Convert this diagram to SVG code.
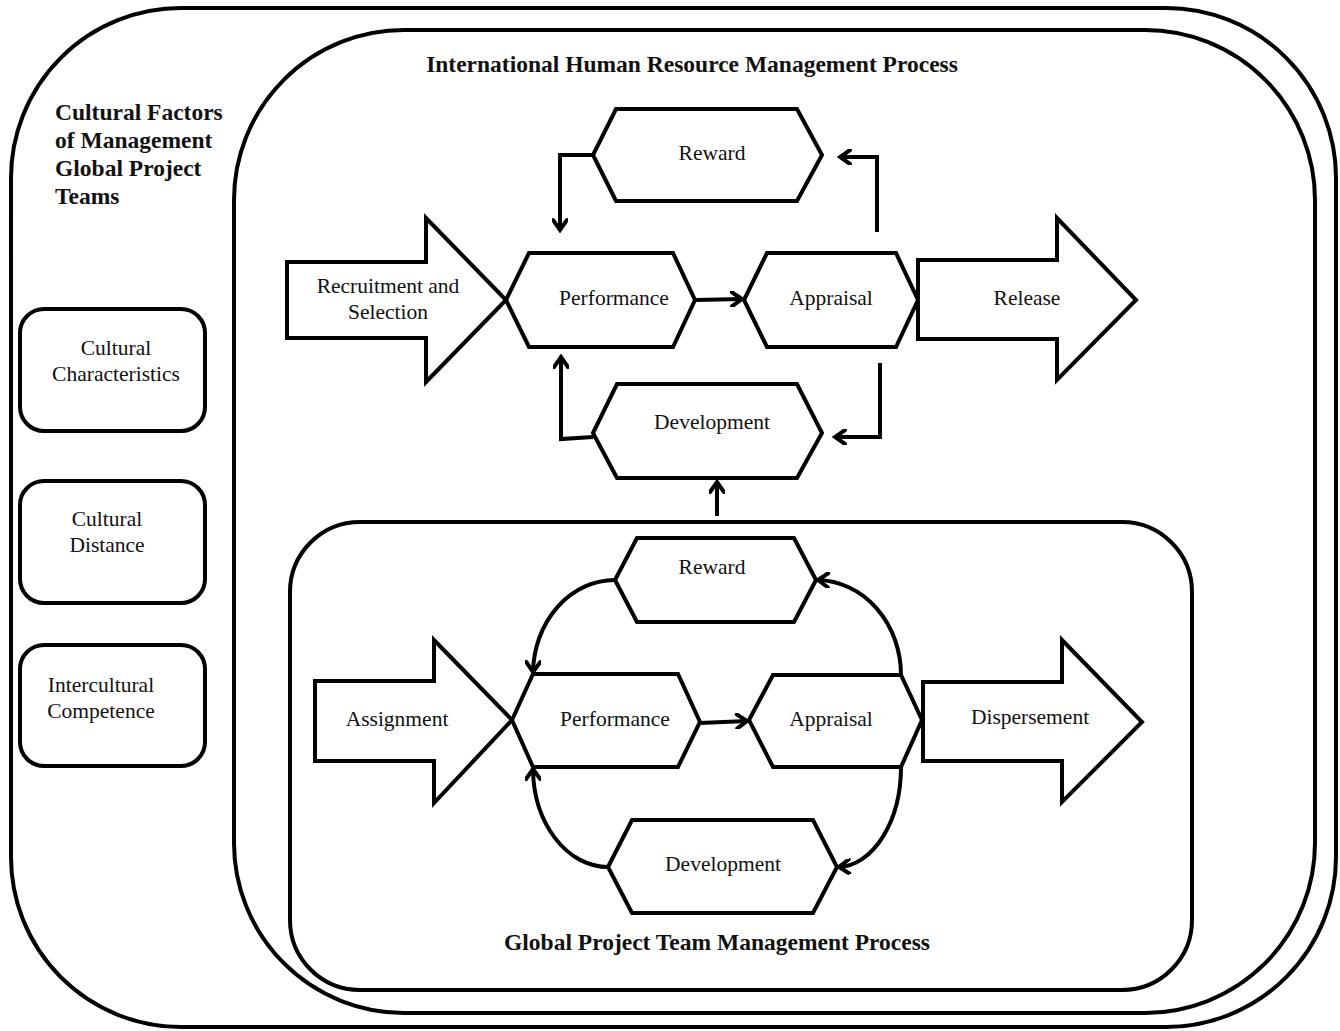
<svg xmlns="http://www.w3.org/2000/svg" width="1340" height="1031" viewBox="0 0 1340 1031">
<style>
.frame{fill:none;stroke:#000;stroke-width:4}
.shape{fill:#fff;stroke:#000;stroke-width:4;stroke-linejoin:miter}
.t{font-family:"Liberation Serif","Times New Roman",serif;font-size:21.5px;fill:#111;text-anchor:middle}
.b{font-family:"Liberation Serif","Times New Roman",serif;font-size:23.5px;font-weight:bold;fill:#111}
.c{fill:none;stroke:#000;stroke-width:4}
</style>
<defs>
<marker id="ah" markerWidth="16" markerHeight="16" viewBox="0 0 16 16" refX="13" refY="8" orient="auto" markerUnits="userSpaceOnUse">
<path d="M3,1 L13,8 L3,15" fill="none" stroke="#000" stroke-width="4" stroke-linecap="round" stroke-linejoin="miter"/>
</marker>
</defs>
<rect width="1340" height="1031" fill="#fff"/>
<g id="outer"><rect class="frame" x="11" y="8" width="1325" height="1019" rx="170" ry="170"/></g>
<g id="ihrm"><rect class="frame" x="234" y="30" width="1081" height="983" rx="170" ry="170"/>
<text class="b" x="692" y="72" text-anchor="middle">International Human Resource Management Process</text></g>
<g id="gptm"><rect class="frame" x="290" y="522" width="902" height="468" rx="70" ry="70"/>
<text class="b" x="717" y="950" text-anchor="middle">Global Project Team Management Process</text></g>
<g id="cultural-title"><text class="b" x="55" y="120" font-size="24.5">Cultural Factors</text>
<text class="b" x="55" y="148" font-size="24.5">of Management</text>
<text class="b" x="55" y="176" font-size="24.5">Global Project</text>
<text class="b" x="55" y="204" font-size="24.5">Teams</text></g>
<g id="cultural-characteristics"><rect class="shape" x="20" y="309" width="185" height="122" rx="24"/>
<text class="t" x="116" y="355">Cultural</text><text class="t" x="116" y="381">Characteristics</text></g>
<g id="cultural-distance"><rect class="shape" x="20" y="481" width="185" height="122" rx="24"/>
<text class="t" x="107" y="526">Cultural</text><text class="t" x="107" y="552">Distance</text></g>
<g id="intercultural-competence"><rect class="shape" x="20" y="645" width="185" height="121" rx="24"/>
<text class="t" x="101" y="692">Intercultural</text><text class="t" x="101" y="718">Competence</text></g>

<g id="recruitment"><polygon class="shape" points="287,262 426,262 426,218 506,300 426,382 426,338 287,338"/>
<text class="t" x="388" y="293">Recruitment and</text><text class="t" x="388" y="319">Selection</text></g>
<g id="reward-top"><polygon class="shape" points="593,155 616,109 797,109 822,155 797,201 616,201"/>
<text class="t" x="712" y="160">Reward</text></g>
<g id="performance-top"><polygon class="shape" points="506,300 529,253 673,253 695,300 673,347 529,347"/>
<text class="t" x="614" y="305">Performance</text></g>
<g id="appraisal-top"><polygon class="shape" points="744,300 767,253 896,253 918,300 896,347 767,347"/>
<text class="t" x="831" y="305">Appraisal</text></g>
<g id="release"><polygon class="shape" points="918,260 1057,260 1057,218 1136,300 1057,380 1057,339 918,339"/>
<text class="t" x="1027" y="305">Release</text></g>
<g id="development-top"><polygon class="shape" points="593,433 617,384 797,384 822,433 797,478 617,478"/>
<text class="t" x="712" y="429">Development</text></g>

<g id="assignment"><polygon class="shape" points="315,681 434,681 434,640 512,720 434,803 434,761 315,761"/>
<text class="t" x="397" y="726">Assignment</text></g>
<g id="reward-bottom"><polygon class="shape" points="615,580 637,538 794,538 816,580 794,622 637,622"/>
<text class="t" x="712" y="574">Reward</text></g>
<g id="performance-bottom"><polygon class="shape" points="512,720 533,674 678,674 700,722 678,767 533,767"/>
<text class="t" x="615" y="726">Performance</text></g>
<g id="appraisal-bottom"><polygon class="shape" points="749,720 773,675 901,675 922,720 901,767 773,767"/>
<text class="t" x="831" y="726">Appraisal</text></g>
<g id="dispersement"><polygon class="shape" points="923,682 1062,682 1062,640 1142,722 1062,802 1062,761 923,761"/>
<text class="t" x="1030" y="724">Dispersement</text></g>
<g id="development-bottom"><polygon class="shape" points="608,867 632,820 813,820 837,867 813,913 632,913"/>
<text class="t" x="723" y="871">Development</text></g>

<g id="connectors">
<line class="c" x1="695" y1="300" x2="742" y2="299" marker-end="url(#ah)"/>
<polyline class="c" points="593,155 560,155 560,230" marker-end="url(#ah)"/>
<polyline class="c" points="877,232 877,157 840,157" marker-end="url(#ah)"/>
<polyline class="c" points="593,437 561,439 561,357" marker-end="url(#ah)"/>
<polyline class="c" points="880,363 880,437 835,437" marker-end="url(#ah)"/>
<line class="c" x1="717" y1="516" x2="717" y2="482" marker-end="url(#ah)"/>
<line class="c" x1="700" y1="723" x2="747" y2="721" marker-end="url(#ah)"/>
<path class="c" d="M615,580 A82,94 0 0 0 533,672" marker-end="url(#ah)"/>
<path class="c" d="M901,675 A85,95 0 0 0 818,580" marker-end="url(#ah)"/>
<path class="c" d="M608,867 A75,99 0 0 1 533,769" marker-end="url(#ah)"/>
<path class="c" d="M901,767 A64,100 0 0 1 839,867" marker-end="url(#ah)"/>
</g>
</svg>
